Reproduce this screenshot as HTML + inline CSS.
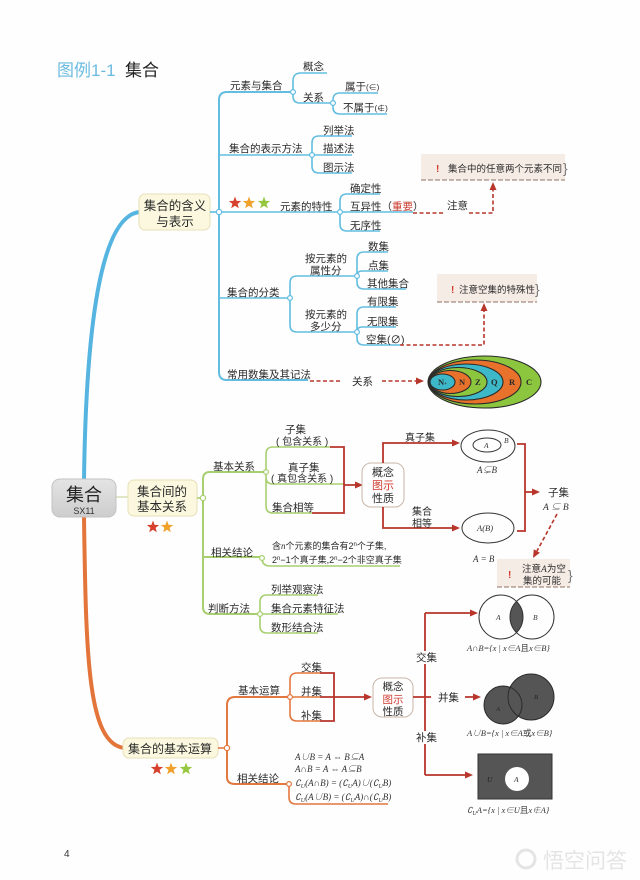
<!DOCTYPE html>
<html><head><meta charset="utf-8">
<style>
html,body{margin:0;padding:0;background:#fff;}
svg{display:block;}
text{font-family:"Liberation Sans","Noto Sans CJK SC",sans-serif;fill:#2a2a2a;}
.t{font-size:10.5px;}
.s{font-size:9.5px;}
.m{font-family:"Liberation Serif","Noto Serif CJK SC",serif;font-style:italic;font-size:9px;fill:#333;}
.bl{fill:none;stroke:#62bde0;stroke-width:1.6;}
.gr{fill:none;stroke:#a7cf6f;stroke-width:1.6;}
.or{fill:none;stroke:#e2773f;stroke-width:1.6;}
.rd{fill:none;stroke:#b8352b;stroke-width:1.8;}
.dash{fill:none;stroke:#b8352b;stroke-width:1.6;stroke-dasharray:4,2.5;}
.ah{fill:#b8352b;}
</style></head>
<body>
<svg width="640" height="880" viewBox="0 0 640 880" xmlns="http://www.w3.org/2000/svg">
<defs>
<path id="st" d="M0,-6.5 L1.59,-2.18 L6.18,-2.01 L2.57,0.83 L3.82,5.26 L0,2.7 L-3.82,5.26 L-2.57,0.83 L-6.18,-2.01 L-1.59,-2.18Z"/>
<linearGradient id="rg" x1="0" y1="0" x2="0" y2="1"><stop offset="0" stop-color="#e4e4e4"/><stop offset="1" stop-color="#cdcdcd"/></linearGradient>
<clipPath id="cA"><circle cx="501" cy="617" r="22"/></clipPath>
</defs>
<rect width="640" height="880" fill="#fefefe"/>

<!-- Title -->
<text x="57" y="76" style="font-size:17px;fill:#6bbbe0">图例1-1</text>
<text x="125" y="76" style="font-size:17px;fill:#222">集合</text>

<!-- Root lines -->
<path d="M84,480 C86,330 100,215 140,212" fill="none" stroke="#56b4e0" stroke-width="4"/>
<path d="M84,517 C86,660 88,745 125,748" fill="none" stroke="#e3743a" stroke-width="4"/>
<line x1="116" y1="497" x2="128" y2="497" stroke="#dfe7c4" stroke-width="2"/>

<!-- Root node -->
<rect x="52" y="479" width="64" height="38" rx="8" fill="url(#rg)" stroke="#c2c2c2"/>
<text x="84" y="501" text-anchor="middle" style="font-size:18px;fill:#222">集合</text>
<text x="84" y="514" text-anchor="middle" style="font-size:9px;fill:#333">SX11</text>

<!-- ===== Blue branch ===== -->
<rect x="139" y="194" width="71" height="36" rx="6" fill="#fbf8df" stroke="#e6e0b8"/>
<text x="175" y="210" text-anchor="middle" style="font-size:12.5px">集合的含义</text>
<text x="175" y="226" text-anchor="middle" style="font-size:12.5px">与表示</text>
<line x1="210" y1="212" x2="219" y2="212" class="bl"/>
<path class="bl" style="stroke-width:2" d="M293,92 L227,92 Q219,92 219,100 L219,372 Q219,380 227,380 L308,380"/>
<path class="bl" d="M219,155 L312,155 M219,212 L340,212 M219,298 L290,298"/>
<path class="bl" d="M293,92 L293,81 Q293,73 301,73 L327,73 M293,92 L293,96 Q293,103 300,103 L333,103"/>
<path class="bl" d="M333,103 L333,100 Q333,93 340,93 L378,93 M333,103 L333,107 Q333,114 340,114 L387,114"/>
<path class="bl" d="M312,155 L312,143 Q312,136 319,136 L352,136 M312,155 L352,155 M312,155 L312,166 Q312,173 319,173 L352,173"/>
<path class="bl" d="M340,212 L340,201 Q340,194 347,194 L380,194 M340,212 L413,212 M340,212 L340,224 Q340,231 347,231 L380,231"/>
<path class="bl" d="M290,298 L290,283 Q290,276 297,276 L357,276 M290,298 L290,325 Q290,332 297,332 L357,332"/>
<path class="bl" d="M357,276 L357,259 Q357,252 364,252 L388,252 M357,276 Q357,271 362,271 L388,271 M357,276 L357,282 Q357,289 364,289 L406,289"/>
<path class="bl" d="M357,332 L357,314 Q357,307 364,307 L396,307 M357,332 Q357,327 362,327 L396,327 M357,332 L357,338 Q357,345 364,345 L400,345"/>
<g fill="#fff" stroke="#62bde0" stroke-width="1.2">
<circle cx="219" cy="212" r="2.6"/><circle cx="293" cy="92" r="2.4"/><circle cx="333" cy="103" r="2.4"/>
<circle cx="312" cy="155" r="2.4"/><circle cx="340" cy="212" r="2.4"/><circle cx="290" cy="298" r="2.4"/>
<circle cx="357" cy="276" r="2.4"/><circle cx="357" cy="332" r="2.4"/>
</g>
<text class="t" x="230" y="89">元素与集合</text>
<text class="t" x="303" y="70">概念</text>
<text class="t" x="303" y="101">关系</text>
<text class="t" x="345" y="90">属于<tspan style="font-size:8px">(∈)</tspan></text>
<text class="t" x="343" y="111">不属于<tspan style="font-size:8px">(∉)</tspan></text>
<text class="t" x="229" y="152">集合的表示方法</text>
<text class="t" x="323" y="134">列举法</text>
<text class="t" x="323" y="152">描述法</text>
<text class="t" x="323" y="171">图示法</text>
<use href="#st" x="235" y="203" fill="#d8402e"/>
<use href="#st" x="249" y="203" fill="#f0a12b"/>
<use href="#st" x="264" y="203" fill="#95c83f"/>
<text class="t" x="280" y="210">元素的特性</text>
<text class="t" x="350" y="192">确定性</text>
<text class="t" x="350" y="210">互异性（<tspan style="fill:#c8392c">重要</tspan>）</text>
<text class="t" x="350" y="229">无序性</text>
<text class="t" x="227" y="296">集合的分类</text>
<text class="t" x="305" y="262">按元素的</text>
<text class="t" x="310" y="274">属性分</text>
<text class="t" x="368" y="250">数集</text>
<text class="t" x="368" y="269">点集</text>
<text class="t" x="367" y="287">其他集合</text>
<text class="t" x="305" y="318">按元素的</text>
<text class="t" x="310" y="330">多少分</text>
<text class="t" x="367" y="305">有限集</text>
<text class="t" x="367" y="325">无限集</text>
<text class="t" x="366" y="343">空集(∅)</text>
<text class="t" x="227" y="378">常用数集及其记法</text>

<path class="dash" d="M413,213 L443,213 M469,213 L493,213 L493,190"/>
<polygon class="ah" points="493,182 489.5,190 496.5,190"/>
<text class="t" x="447" y="209">注意</text>
<path class="dash" d="M400,345 L484,345 L484,311"/>
<polygon class="ah" points="484,303 480.5,311 487.5,311"/>
<path class="dash" d="M310,381 L341,381 M382,381 L416,381"/>
<polygon class="ah" points="424,381 416,377.5 416,384.5"/>
<text class="t" x="352" y="385">关系</text>

<!-- Note 1 -->
<rect x="421" y="154" width="144" height="26" fill="#f6ece6"/>
<line x1="421" y1="180" x2="565" y2="180" stroke="#8f7264" stroke-width="1" stroke-dasharray="5,2"/>
<text x="436" y="172" style="font-size:10px;font-weight:bold;fill:#d23a2c">!</text>
<text class="s" x="448" y="172">集合中的任意两个元素不同</text>
<text x="563" y="173" style="font-size:14px;fill:#777">}</text>
<!-- Note 2 -->
<rect x="437" y="274" width="100" height="28" fill="#f6ece6"/>
<line x1="437" y1="302" x2="537" y2="302" stroke="#8f7264" stroke-width="1" stroke-dasharray="5,2"/>
<text x="451" y="293" style="font-size:10px;font-weight:bold;fill:#d23a2c">!</text>
<text class="s" x="459" y="293">注意空集的特殊性</text>
<text x="535" y="294" style="font-size:14px;fill:#777">}</text>

<!-- Nested ellipses -->
<g stroke="#2a2a2a" stroke-width="1.1">
<ellipse cx="484.5" cy="382" rx="56.5" ry="26" fill="#8cc63f"/>
<ellipse cx="475" cy="382" rx="46" ry="22" fill="#e8722c"/>
<ellipse cx="466" cy="382" rx="37" ry="18" fill="#3db8c8"/>
<ellipse cx="458" cy="382" rx="29" ry="14.5" fill="#8cc63f"/>
<ellipse cx="450.5" cy="382" rx="20.5" ry="11.5" fill="#e8722c"/>
<ellipse cx="442.5" cy="382" rx="12.5" ry="8" fill="#3db8c8"/>
</g>
<g style="font-size:8.5px;font-weight:bold" fill="#222">
<text x="438" y="385" style="font-family:'Liberation Serif',serif">N<tspan style="font-size:5px">+</tspan></text>
<text x="459" y="385" style="font-family:'Liberation Serif',serif">N</text>
<text x="475" y="385" style="font-family:'Liberation Serif',serif">Z</text>
<text x="491" y="385" style="font-family:'Liberation Serif',serif">Q</text>
<text x="509" y="385" style="font-family:'Liberation Serif',serif">R</text>
<text x="526" y="385" style="font-family:'Liberation Serif',serif">C</text>
</g>

<!-- ===== Green branch ===== -->
<rect x="128" y="480" width="69" height="36" rx="6" fill="#fbf8df" stroke="#e6e0b8"/>
<text x="162" y="496" text-anchor="middle" style="font-size:12.5px">集合间的</text>
<text x="162" y="511" text-anchor="middle" style="font-size:12.5px">基本关系</text>
<use href="#st" x="153" y="527" fill="#d8402e"/>
<use href="#st" x="167" y="527" fill="#f0a12b"/>
<line x1="197" y1="498" x2="203" y2="498" class="gr"/>
<path class="gr" style="stroke-width:2" d="M266,472 L210,472 Q203,472 203,479 L203,607 Q203,614 210,614 L260,614 M203,557 L262,557"/>
<path class="gr" d="M262,558 Q262,566 270,566 L400,566"/>
<path class="gr" d="M260,614 L260,602 Q260,595 267,595 L318,595 M260,614 L338,614 M260,614 L260,626 Q260,633 267,633 L318,633"/>
<path class="gr" d="M266,472 L266,454 Q266,447 273,447 L330,447 M266,472 L266,477 Q266,484 273,484 L345,484 M266,472 L266,506 Q266,513 273,513 L312,513"/>
<g fill="#fff" stroke="#a7cf6f" stroke-width="1.2">
<circle cx="203" cy="498" r="2.6"/><circle cx="266" cy="472" r="2.4"/><circle cx="262" cy="558" r="2.4"/><circle cx="260" cy="614" r="2.4"/>
</g>
<text class="t" x="213" y="470">基本关系</text>
<text class="t" x="285" y="433">子集</text>
<text class="t" x="276" y="445" style="font-size:10px">( 包含关系 )</text>
<text class="t" x="288" y="471">真子集</text>
<text class="t" x="271" y="482" style="font-size:10px">( 真包含关系 )</text>
<text class="t" x="272" y="511">集合相等</text>
<text class="t" x="211" y="556">相关结论</text>
<text x="272" y="549" style="font-size:9px">含<tspan class="m" style="font-size:9px">n</tspan>个元素的集合有2<tspan style="font-size:6px" dy="-3">n</tspan><tspan dy="3">个子集,</tspan></text>
<text x="272" y="563" style="font-size:9px">2<tspan style="font-size:6px" dy="-3">n</tspan><tspan dy="3">−1个真子集,2</tspan><tspan style="font-size:6px" dy="-3">n</tspan><tspan dy="3">−2个非空真子集</tspan></text>
<text class="t" x="208" y="612">判断方法</text>
<text class="t" x="271" y="593">列举观察法</text>
<text class="t" x="271" y="612">集合元素特征法</text>
<text class="t" x="271" y="631">数形结合法</text>

<path class="rd" d="M330,447 L344,447 L344,513 L312,513 M344,485 L355,485"/>
<polygon class="ah" points="363,485 355,481.5 355,488.5"/>
<rect x="362" y="463" width="42" height="44" rx="9" fill="#fff" stroke="#c9b5a8"/>
<text x="383" y="476" text-anchor="middle" style="font-size:11px">概念</text>
<text x="383" y="489" text-anchor="middle" style="font-size:11px;fill:#cf3c30">图示</text>
<text x="383" y="502" text-anchor="middle" style="font-size:11px">性质</text>
<path class="rd" d="M383,463 L383,443 L452,443 M383,507 L383,528 L452,528"/>
<polygon class="ah" points="460,443 452,439.5 452,446.5"/>
<polygon class="ah" points="460,528 452,524.5 452,531.5"/>
<text class="t" x="405" y="441" style="font-size:10px">真子集</text>
<text class="t" x="412" y="515" style="font-size:10px">集合</text>
<text class="t" x="412" y="527" style="font-size:10px">相等</text>
<ellipse cx="488" cy="446" rx="27" ry="16" fill="none" stroke="#333" stroke-width="1"/>
<ellipse cx="487" cy="445" rx="14" ry="7" fill="none" stroke="#333" stroke-width="1"/>
<text class="m" x="484" y="448" style="font-size:7.5px">A</text>
<text class="m" x="504" y="443" style="font-size:7.5px">B</text>
<text class="m" x="477" y="473">A⊊B</text>
<ellipse cx="488" cy="528" rx="26" ry="15" fill="none" stroke="#333" stroke-width="1"/>
<text class="m" x="477" y="531" style="font-size:8.5px">A(B)</text>
<text class="m" x="473" y="562">A = B</text>
<path class="rd" d="M517,444 L525,444 L525,531 L517,531 M525,492 L532,492"/>
<polygon class="ah" points="540,492 532,488.5 532,495.5"/>
<text class="t" x="548" y="496">子集</text>
<text class="m" x="543" y="510" style="font-size:9.5px">A ⊆ B</text>
<path class="dash" d="M557,514 L537,551"/>
<polygon class="ah" points="533,558 533.8,549.3 539.9,552.7"/>
<rect x="497" y="559" width="73" height="28" fill="#f6ece6"/>
<line x1="497" y1="587" x2="570" y2="587" stroke="#8f7264" stroke-width="1" stroke-dasharray="5,2"/>
<text x="508" y="578" style="font-size:10px;font-weight:bold;fill:#d23a2c">!</text>
<text class="s" x="522" y="572">注意<tspan class="m" style="font-size:9.5px">A</tspan>为空</text>
<text class="s" x="523" y="584">集的可能</text>
<text x="568" y="580" style="font-size:14px;fill:#777">}</text>

<!-- ===== Orange branch ===== -->
<rect x="123" y="738" width="95" height="20" rx="6" fill="#fbf8df" stroke="#e6e0b8"/>
<text x="170" y="753" text-anchor="middle" style="font-size:12px">集合的基本运算</text>
<use href="#st" x="157" y="769" fill="#d8402e"/>
<use href="#st" x="171" y="769" fill="#f0a12b"/>
<use href="#st" x="186" y="769" fill="#95c83f"/>
<line x1="218" y1="748" x2="227" y2="748" class="or"/>
<path class="or" style="stroke-width:2" d="M290,697 L235,697 Q227,697 227,705 L227,777 Q227,784 235,784 L289,784"/>
<path class="or" d="M290,697 L290,680 Q290,673 297,673 L320,673 M290,697 L320,697 M290,697 L290,714 Q290,721 297,721 L320,721"/>
<path class="or" d="M289,784 L289,797 Q289,804 296,804 L388,804"/>
<g fill="#fff" stroke="#e2773f" stroke-width="1.2">
<circle cx="227" cy="748" r="2.6"/><circle cx="290" cy="697" r="2.4"/><circle cx="289" cy="784" r="2.4"/>
</g>
<text class="t" x="238" y="694">基本运算</text>
<text class="t" x="301" y="671">交集</text>
<text class="t" x="301" y="695">并集</text>
<text class="t" x="301" y="719">补集</text>
<text class="t" x="237" y="782">相关结论</text>
<text class="m" x="295" y="760">A∪B = A ⇔ B⊆A</text>
<text class="m" x="295" y="772">A∩B = A ⇔ A⊆B</text>
<text class="m" x="295" y="786">∁<tspan style="font-size:6px" dy="2">U</tspan><tspan dy="-2">(A∩B) = (∁</tspan><tspan style="font-size:6px" dy="2">U</tspan><tspan dy="-2">A)∪(∁</tspan><tspan style="font-size:6px" dy="2">U</tspan><tspan dy="-2">B)</tspan></text>
<text class="m" x="295" y="800">∁<tspan style="font-size:6px" dy="2">U</tspan><tspan dy="-2">(A∪B) = (∁</tspan><tspan style="font-size:6px" dy="2">U</tspan><tspan dy="-2">A)∩(∁</tspan><tspan style="font-size:6px" dy="2">U</tspan><tspan dy="-2">B)</tspan></text>

<path class="rd" d="M320,673 L334,673 L334,721 L320,721 M320,697 L364,697"/>
<polygon class="ah" points="372,697 364,693.5 364,700.5"/>
<rect x="373" y="678" width="40" height="39" rx="9" fill="#fff" stroke="#c9b5a8"/>
<text x="393" y="690" text-anchor="middle" style="font-size:10.5px">概念</text>
<text x="393" y="703" text-anchor="middle" style="font-size:10.5px;fill:#cf3c30">图示</text>
<text x="393" y="715" text-anchor="middle" style="font-size:10.5px">性质</text>
<path class="rd" d="M413,697 L431,697 M425,613 L425,775 M425,613 L470,613 M425,775 L465,775 M465,697 L473,697"/>
<polygon class="ah" points="478,613 470,609.5 470,616.5"/>
<polygon class="ah" points="473,775 465,771.5 465,778.5"/>
<polygon class="ah" points="481,697 473,693.5 473,700.5"/>
<rect x="415" y="651" width="22" height="13" fill="#fff"/>
<rect x="415" y="731" width="22" height="13" fill="#fff"/>
<text class="t" x="416" y="661">交集</text>
<text class="t" x="438" y="701">并集</text>
<text class="t" x="416" y="741">补集</text>

<!-- Venn 1 -->
<circle cx="532" cy="617" r="22" fill="#555" clip-path="url(#cA)"/>
<circle cx="501" cy="617" r="22" fill="none" stroke="#333" stroke-width="1"/>
<circle cx="532" cy="617" r="22" fill="none" stroke="#333" stroke-width="1"/>
<text class="m" x="496" y="620" style="font-size:7.5px">A</text>
<text class="m" x="533" y="620" style="font-size:7.5px">B</text>
<text class="m" x="467" y="651" style="font-size:8.5px">A∩B={x | x∈A<tspan style="font-style:normal;font-family:'Noto Sans CJK SC',sans-serif">且</tspan>x∈B}</text>
<!-- Venn 2 -->
<circle cx="531" cy="697" r="23" fill="#555"/>
<circle cx="503" cy="705" r="19" fill="#555"/>
<circle cx="531" cy="697" r="23" fill="none" stroke="#2a2a2a" stroke-width="1"/>
<circle cx="503" cy="705" r="19" fill="none" stroke="#2a2a2a" stroke-width="1"/>
<text class="m" x="496" y="711" style="font-size:6.5px;fill:#222">A</text>
<text class="m" x="534" y="699" style="font-size:6.5px;fill:#222">B</text>
<text class="m" x="467" y="736" style="font-size:8.5px">A∪B={x | x∈A<tspan style="font-style:normal;font-family:'Noto Sans CJK SC',sans-serif">或</tspan>x∈B}</text>
<!-- Complement -->
<rect x="478" y="754" width="74" height="45" fill="#555" stroke="#333"/>
<circle cx="517" cy="779" r="12" fill="#fff"/>
<text class="m" x="487" y="782" style="font-size:7.5px;fill:#222">U</text>
<text class="m" x="514" y="782" style="font-size:7.5px">A</text>
<text class="m" x="467" y="813" style="font-size:8.5px">∁<tspan style="font-size:6px" dy="2">U</tspan><tspan dy="-2">A={x | x∈U</tspan><tspan style="font-style:normal;font-family:'Noto Sans CJK SC',sans-serif">且</tspan>x∉A}</text>

<text x="64" y="857" style="font-size:10px;fill:#333">4</text>
<g opacity="0.9">
<circle cx="526" cy="859" r="9" fill="none" stroke="#e2e2e2" stroke-width="3"/>
<text x="543" y="868" style="font-size:21px;fill:#e2e2e2">悟空问答</text>
</g>
</svg>
</body></html>
